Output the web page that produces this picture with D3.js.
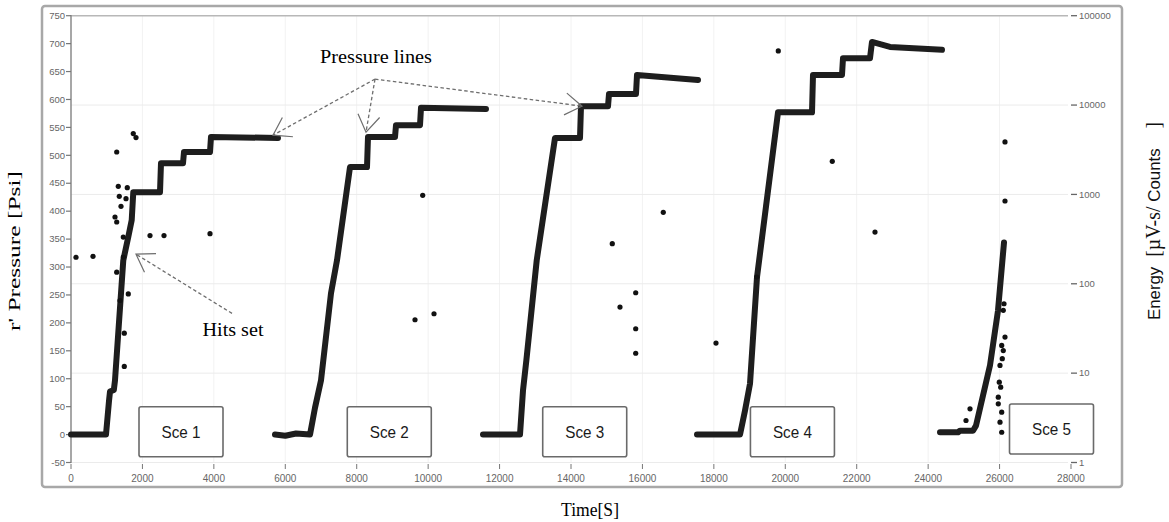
<!DOCTYPE html>
<head>
<script src="https://d3js.org/d3.v7.min.js"></script>
<meta charset="utf-8">
<style>
body { margin: 0; background: #fff; }
text { font-family: "Liberation Sans", Arial, sans-serif; }
.serif { font-family: "Liberation Serif", "Times New Roman", serif; }
</style>
</head>
<body>
<svg id="chart"></svg>
<script>

// pressure traces, [time s, pressure psi]
var sce1 = [[0,0],[980,0],[1064,60],[1092,77],[1200,80],[1232,97],[1464,312],[1604,354],[1700,384],[1744,434],
            [2492,434],[2520,486],[3136,486],[3164,506],[3892,506],[3920,533],[5796,531]];
var sce2 = [[5712,0],[6000,-2],[6300,2],[6692,0],[6832,48],[7000,97],[7280,253],[7448,312],[7812,479],
            [8288,479],[8316,533],[9072,533],[9100,554],[9772,554],[9800,585],[11620,583]];
var sce3 = [[11536,0],[12572,0],[12656,79],[12750,133],[13040,312],[13552,531],[14252,531],[14280,588],
            [15036,588],[15064,610],[15820,610],[15848,644],[17556,635]];
var sce4 = [[17528,0],[18732,0],[18872,43],[19012,91],[19208,282],[19796,577],[20748,577],[20776,644],
            [21588,644],[21616,674],[22372,674],[22428,703],[22932,694],[24388,689]];
var sce5 = [[24332,4],[24836,4],[24892,7],[25256,7],[25340,16],[25732,124],[25956,222],[26124,344]];

// hits, [time s, energy]
var hits = [[140,198],[616,203],[1744,4797],[1820,4325],[1280,2985],[1324,1232],[1576,1191],[1352,953],
            [1540,897],[1400,736],[1232,559],[1280,491],[1464,333],[2212,346],[2604,346],[3892,364],
            [1464,199],[1280,135],[1604,77],[1372,65],[1492,28],[1492,11.9],
            [9632,39.6],[10164,46.2],[9848,978],[15372,54.8],[15156,281],[16584,631],[15812,79.4],
            [15812,31.4],[15812,16.7],[18060,21.7],[19200,119],[19804,40360],[21316,2349],[22512,379],
            [26152,3864],[26152,844],[26124,59.8],[26104,50.4],[26152,25.3],[26060,20.4],[26104,17.9],
            [26076,14.5],[26012,12.2],[25992,7.93],[26032,6.97],[25964,5.39],[25964,4.54],[26060,3.66],
            [26012,2.83],[26060,2.18],[25172,3.99],[25060,2.95]];

var xTicks = [0,2000,4000,6000,8000,10000,12000,14000,16000,18000,20000,22000,24000,26000,28000];
var pTicks = [-50,0,50,100,150,200,250,300,350,400,450,500,550,600,650,700,750];
var eTicks = [1,10,100,1000,10000,100000];

// scenario labels: name, centre time, centre psi
var sceNames = ["Sce 1","Sce 2","Sce 3","Sce 4","Sce 5"];
var sceTime = [3080,8912,14384,20200,27454];
var scePsi = [5,5,5,5,10];

var width = 1169, height = 522;

var svg = d3.select("#chart").attr("width", width).attr("height", height);

var x = d3.scaleLinear().domain([0, 28000]).range([71, 1071]);
var y = d3.scaleLinear().domain([-50, 750]).range([462.5, 15.7]);
var yE = d3.scaleLog().domain([1, 100000]).range([462.5, 15.7]);

// outer frame
svg.append("rect")
    .attr("x", 42).attr("y", 6).attr("width", 1080).attr("height", 481).attr("rx", 3)
    .attr("fill", "none").attr("stroke", "#a8a8a8").attr("stroke-width", 2.5);

// grid
svg.append("g").selectAll("line").data(xTicks.slice(1, -1)).join("line")
    .attr("x1", d => x(d)).attr("x2", d => x(d)).attr("y1", 15.7).attr("y2", 462)
    .attr("stroke", "#f2f2f2");
svg.append("g").selectAll("line").data(eTicks).join("line")
    .attr("x1", 71).attr("x2", 1068).attr("y1", d => yE(d)).attr("y2", d => yE(d))
    .attr("stroke", d => d == 100000 ? "#b8b8b8" : "#ebebeb")
    .attr("stroke-width", d => d == 100000 ? 1.5 : 1);

// left axis
var gl = svg.append("g");
gl.append("line").attr("x1", 71).attr("x2", 71).attr("y1", 15).attr("y2", 463)
    .attr("stroke", "#8a8a8a").attr("stroke-width", 1.5);
gl.selectAll("line.t").data(pTicks).join("line").attr("class", "t")
    .attr("x1", 66).attr("x2", 71).attr("y1", d => y(d)).attr("y2", d => y(d))
    .attr("stroke", "#777").attr("stroke-width", 1.2);
gl.selectAll("text").data(pTicks).join("text")
    .attr("x", 65).attr("y", d => y(d) + 3.2)
    .attr("text-anchor", "end").attr("font-size", 9.5).attr("fill", "#666")
    .text(d => d);

// bottom ticks
var gb = svg.append("g");
gb.selectAll("line").data(xTicks).join("line")
    .attr("x1", d => x(d)).attr("x2", d => x(d)).attr("y1", 464).attr("y2", 469)
    .attr("stroke", "#777");
gb.selectAll("text").data(xTicks).join("text")
    .attr("x", d => x(d)).attr("y", 482)
    .attr("text-anchor", "middle").attr("font-size", 10).attr("fill", "#666")
    .text(d => d);

// right axis
var gr = svg.append("g");
gr.selectAll("line").data(eTicks).join("line")
    .attr("x1", 1071).attr("x2", 1077).attr("y1", d => yE(d)).attr("y2", d => yE(d))
    .attr("stroke", "#666").attr("stroke-width", 1.3);
gr.selectAll("text").data(eTicks).join("text")
    .attr("x", 1079).attr("y", d => yE(d) + 3.2)
    .attr("font-size", 9.5).attr("fill", "#666")
    .text(d => d);

// pressure lines
var line = d3.line().x(d => x(d[0])).y(d => y(d[1]));
svg.append("g").selectAll("path").data([sce1, sce2, sce3, sce4, sce5]).join("path")
    .attr("d", line)
    .attr("fill", "none").attr("stroke", "#1e1e1e").attr("stroke-width", 6)
    .attr("stroke-linejoin", "round").attr("stroke-linecap", "round");

// hits
svg.append("g").selectAll("circle").data(hits).join("circle")
    .attr("cx", d => x(d[0])).attr("cy", d => yE(d[1])).attr("r", 2.6)
    .attr("fill", "#111");

// scenario boxes
var gs = svg.append("g").selectAll("g").data(sceNames).join("g")
    .attr("transform", (d, i) => "translate(" + x(sceTime[i]) + "," + y(scePsi[i]) + ")");
gs.append("rect")
    .attr("x", -42).attr("y", -25).attr("width", 84).attr("height", 50).attr("rx", 2)
    .attr("fill", "#fff").attr("stroke", "#6a6a6a").attr("stroke-width", 1.6);
gs.append("text")
    .attr("text-anchor", "middle").attr("y", 6)
    .attr("font-size", 17).attr("textLength", 39).attr("lengthAdjust", "spacingAndGlyphs")
    .attr("fill", "#1a1a1a")
    .text(d => d);

// annotation arrows
function arrow(x0, y0, x1, y1) {
    var g = svg.append("g").attr("stroke", "#6e6e6e").attr("fill", "none");
    g.append("line").attr("x1", x0).attr("y1", y0).attr("x2", x1).attr("y2", y1)
        .attr("stroke-width", 1.3).attr("stroke-dasharray", "3.5,2.5");
    var a = Math.atan2(y0 - y1, x0 - x1), len = 20, h = 0.58;
    g.append("path")
        .attr("d", "M" + (x1 + len * Math.cos(a - h)) + "," + (y1 + len * Math.sin(a - h)) +
                   "L" + x1 + "," + y1 +
                   "L" + (x1 + len * Math.cos(a + h)) + "," + (y1 + len * Math.sin(a + h)))
        .attr("stroke-width", 1.2);
}
var ox = x(8512), oy = y(636.5);
arrow(ox, oy, x(5656), y(536));
arrow(ox, oy, x(8260), y(541.5));
arrow(ox, oy, x(14308), y(588));
arrow(x(4508), y(217), x(1820), y(323));

svg.append("text").attr("class", "serif")
    .attr("x", 376).attr("y", 63).attr("text-anchor", "middle")
    .attr("font-size", 19).attr("textLength", 112).attr("lengthAdjust", "spacingAndGlyphs")
    .text("Pressure lines");
svg.append("text").attr("class", "serif")
    .attr("x", 233).attr("y", 336).attr("text-anchor", "middle")
    .attr("font-size", 19).attr("textLength", 61).attr("lengthAdjust", "spacingAndGlyphs")
    .text("Hits set");

// axis titles
svg.append("text").attr("class", "serif")
    .attr("x", 590).attr("y", 516).attr("text-anchor", "middle")
    .attr("font-size", 19).attr("textLength", 58).attr("lengthAdjust", "spacingAndGlyphs")
    .text("Time[S]");
svg.append("text").attr("class", "serif")
    .attr("transform", "translate(20,251) rotate(-90)").attr("text-anchor", "middle")
    .attr("font-size", 17).attr("textLength", 160).attr("lengthAdjust", "spacingAndGlyphs")
    .text("r' Pressure [Psi]");
var et = svg.append("text")
    .attr("transform", "translate(1160,221) rotate(-90)").attr("text-anchor", "middle")
    .attr("font-size", 17).attr("textLength", 198).attr("lengthAdjust", "spacingAndGlyphs")
    .attr("fill", "#111");
et.append("tspan").text("Energy");
et.append("tspan").attr("class", "serif").attr("font-size", 20).text("\u00a0\u00a0[\u00b5V-s/\u00a0");
et.append("tspan").text("Counts");
et.append("tspan").attr("class", "serif").attr("font-size", 20).text("\u00a0\u00a0\u00a0\u00a0]");

</script>
</body>
